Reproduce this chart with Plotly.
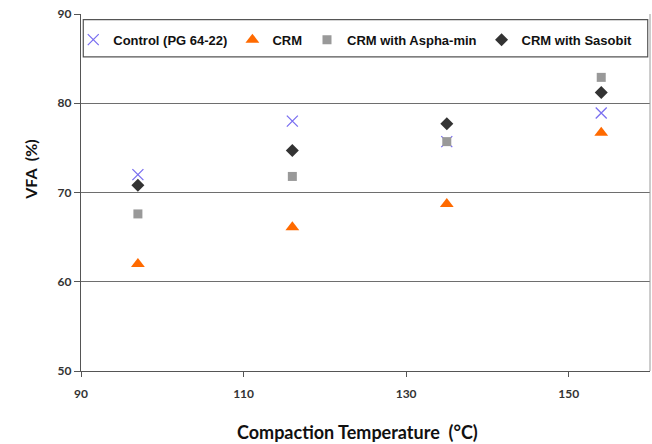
import plotly.graph_objects as go

temps = [97, 116, 135, 154]
control = [72.0, 78.0, 75.7, 78.9]
crm = [62.0, 66.1, 68.7, 76.7]
aspha = [67.6, 71.8, 75.7, 82.9]
sasobit = [70.8, 74.7, 77.7, 81.2]

x_ticks = [90, 110, 130, 150]
y_ticks = [50, 60, 70, 80, 90]

fig = go.Figure()
fig.add_trace(go.Scatter(x=temps, y=control, mode="markers", name="Control (PG 64-22)",
                         marker=dict(symbol="x-thin", size=11, line=dict(color="#7a6ff0", width=1.3))))
fig.add_trace(go.Scatter(x=temps, y=crm, mode="markers", name="CRM",
                         marker=dict(symbol="triangle-up", size=12, color="#ff6a00")))
fig.add_trace(go.Scatter(x=temps, y=aspha, mode="markers", name="CRM with Aspha-min",
                         marker=dict(symbol="square", size=9, color="#999999")))
fig.add_trace(go.Scatter(x=temps, y=sasobit, mode="markers", name="CRM with Sasobit",
                         marker=dict(symbol="diamond", size=10, color="#333333")))

tickfont = dict(family="Lato", size=12, color="#333333", weight="bold")

fig.update_layout(
    width=652, height=444,
    margin=dict(l=81, r=2, t=14, b=73),
    paper_bgcolor="white", plot_bgcolor="white",
    showlegend=True,
    legend=dict(orientation="h", x=0.482, y=0.97, xanchor="center", yanchor="top",
                bgcolor="rgba(0,0,0,0)", borderwidth=0,
                font=dict(family="Liberation Sans", size=13, color="#111111", weight="bold")),
    xaxis=dict(range=[90, 160], tickvals=x_ticks, ticks="outside", ticklen=5, tickcolor="#555555",
               showline=True, linecolor="#555555", linewidth=1.2, mirror=False,
               showgrid=False, zeroline=False, tickfont=tickfont, ticklabelstandoff=6),
    yaxis=dict(range=[50, 90], tickvals=y_ticks, ticks="outside", ticklen=6, tickcolor="#555555",
               showline=True, linecolor="#555555", linewidth=1.2,
               showgrid=True, gridcolor="#6e6e6e", gridwidth=1, zeroline=False, tickfont=tickfont),
    shapes=[
        dict(type="line", xref="paper", yref="paper", x0=1, x1=1, y0=0, y1=1,
             line=dict(color="#9a9a9a", width=1)),
        dict(type="rect", xref="paper", yref="paper", x0=0.004, x1=0.996, y0=0.88, y1=0.984,
             line=dict(color="#555555", width=1.2), fillcolor="white", layer="below"),
    ],
    annotations=[
        dict(text="Compaction Temperature  (°C)", xref="paper", yref="paper", x=0.486, y=-0.17,
             xanchor="center", yanchor="middle", showarrow=False,
             font=dict(family="Lato", size=18, color="#111111", weight="bold")),
        dict(text="VFA  (%)", xref="paper", yref="paper", x=-0.09, y=0.563, textangle=-90,
             xanchor="center", yanchor="middle", showarrow=False,
             font=dict(family="Lato", size=16, color="#111111", weight="bold")),
    ],
)

fig.write_html("out.html")
